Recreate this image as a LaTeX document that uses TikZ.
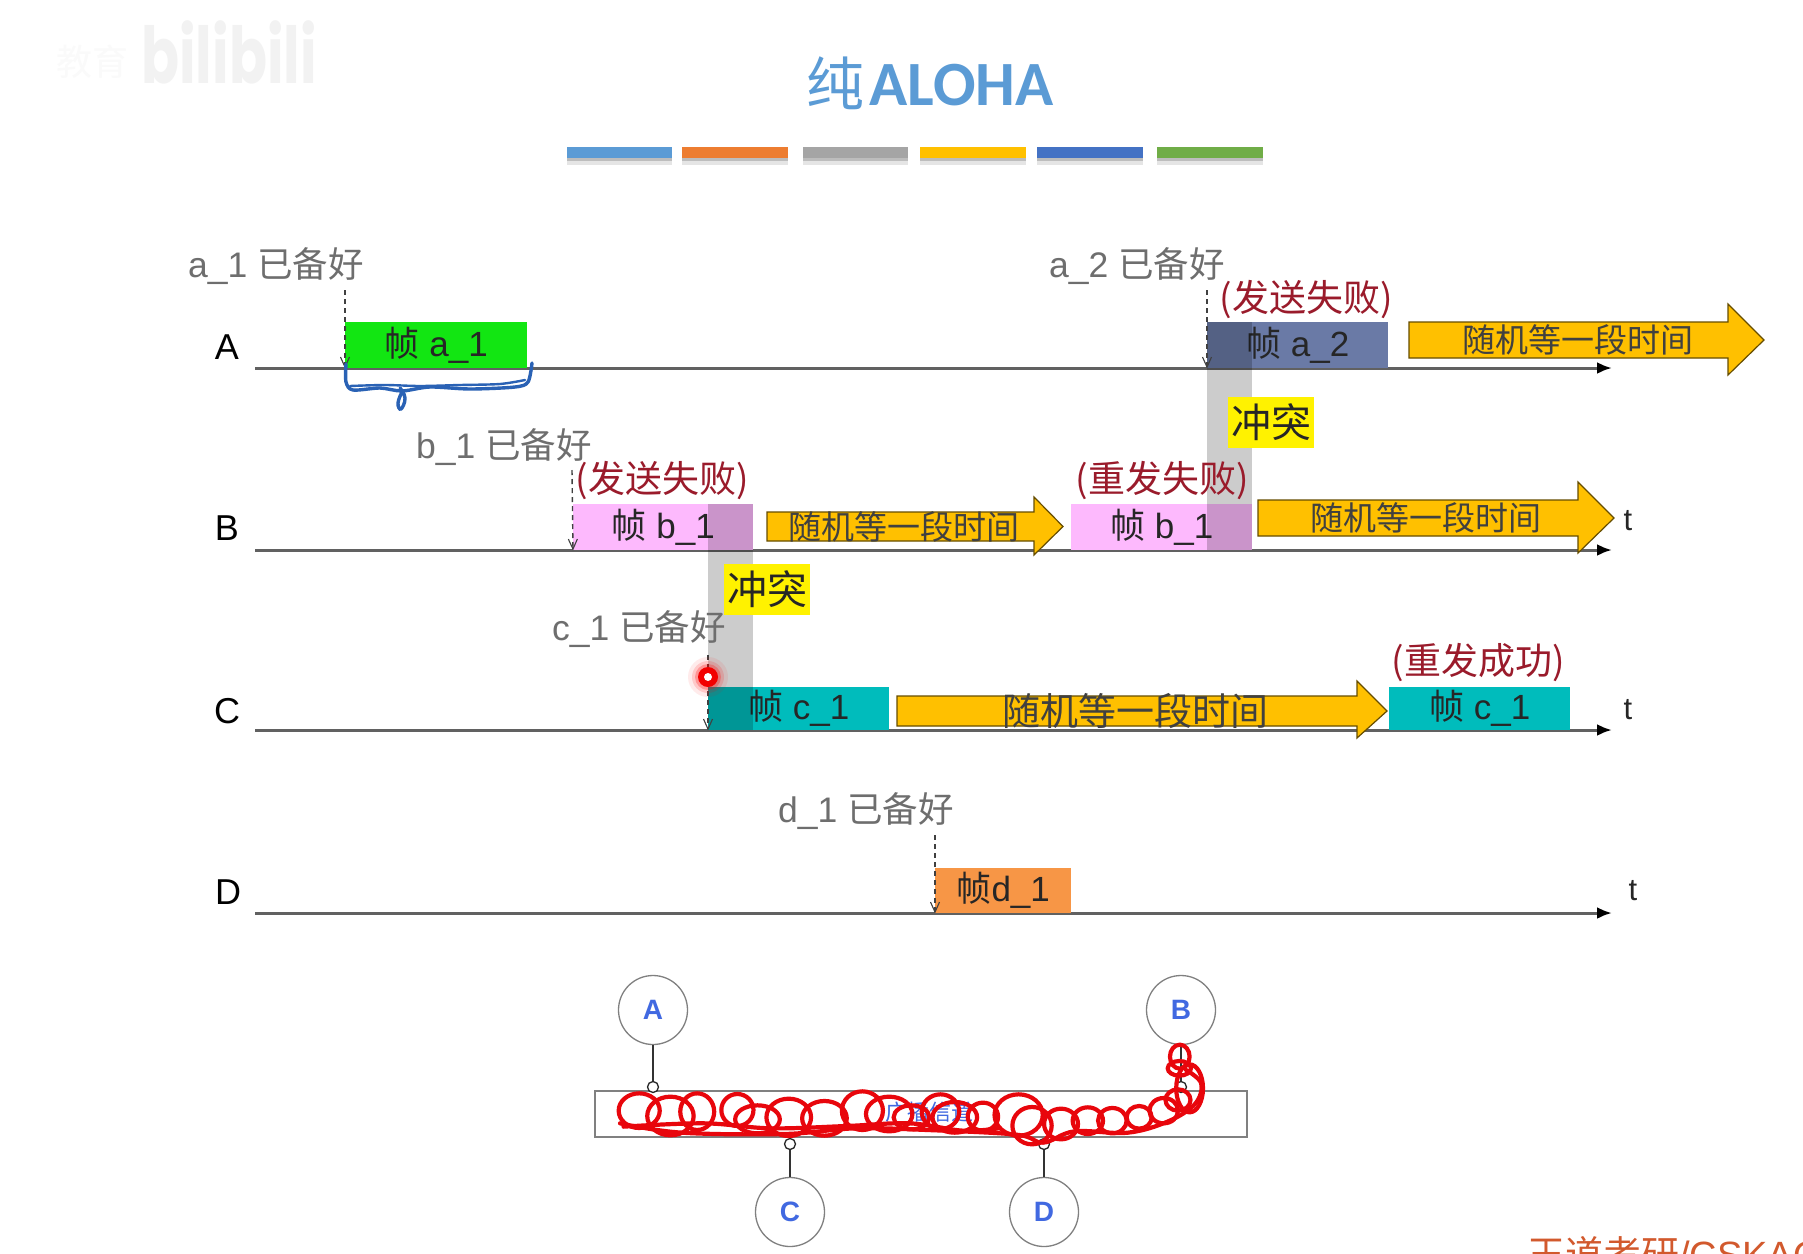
\documentclass[tikz,border=0pt]{standalone}
\usepackage{fontspec}
\setmainfont{Liberation Sans}
\newfontfamily\cjk{Noto Sans CJK SC}
\newfontfamily\carl{Carlito}
\newfontfamily\popp{Poppins}
\usetikzlibrary{arrows.meta}
\definecolor{titleblue}{HTML}{5B9BD5}
\definecolor{barorange}{HTML}{ED7D31}
\definecolor{bargray}{HTML}{A5A5A5}
\definecolor{baryellow}{HTML}{FFC000}
\definecolor{barblue}{HTML}{4472C4}
\definecolor{bargreen}{HTML}{70AD47}
\definecolor{labelgray}{HTML}{6E6E6E}
\definecolor{failred}{HTML}{9A1B2B}
\definecolor{framegreen}{HTML}{12E612}
\definecolor{frameslate}{HTML}{6A7AA6}
\definecolor{framepink}{HTML}{FDB9FD}
\definecolor{frameteal}{HTML}{00BCBC}
\definecolor{frameorange}{HTML}{F79646}
\definecolor{nodeblue}{HTML}{4169E1}
\definecolor{brushblue}{HTML}{2A62B5}
\definecolor{markred}{HTML}{E8060C}
\newcommand{\fsz}[1]{\fontsize{#1}{#1}\selectfont}
\newcommand{\ftxt}[1]{\raisebox{-2pt}{#1}}
\newcommand{\blockarrow}[8]{% name, x1, xhead, x2, top, bottom, headtop, headbottom
  \draw[blockstyle] (#2,#5) -- (#3,#5) -- (#3,#7) -- (#4,{(#5+#6)/2}) -- (#3,#8) -- (#3,#6) -- (#2,#6) -- cycle;
}
\newcommand{\bandbar}[3]{%
  \fill[black!10] (#1,150) rectangle (#2,165);
  \fill[black!26] (#1,150) rectangle (#2,161);
  \fill[#3] (#1,147) rectangle (#2,158);
}
\tikzset{
  axisline/.style={draw=black!62,line width=3pt,-{Latex[length=15pt,width=12pt,black]}},
  readylabel/.style={text=labelgray,font=\fsz{35.5},inner sep=0pt},
  faillabel/.style={text=failred,font=\cjk\fsz{37},inner sep=0pt},
  rowlabel/.style={text=black,font=\fsz{36},inner sep=0pt},
  tlabel/.style={text=black!85,font=\fsz{31},inner sep=0pt},
  framebox/.style={inner sep=0pt,anchor=north west,font=\fsz{35},text=black!85},
  yellowbox/.style={fill=yellow,inner sep=0pt,minimum width=86pt,minimum height=51pt,font=\cjk\fsz{40},text=black!85},
  blockstyle/.style={fill=baryellow,draw=black!60!baryellow,line width=1.2pt,line join=miter},
  waittext/.style={font=\cjk\fsz{33},text=black!75,inner sep=0pt},
  readyarrow/.style={draw=black!75,line width=1.4pt,dash pattern=on 5pt off 4pt,-{Straight Barb[length=10pt,width=9pt,line width=1.1pt]}},
  station/.style={circle,draw=black!50,fill=white,line width=1.3pt,minimum size=69pt,inner sep=0pt,font=\bfseries\fsz{28},text=nodeblue},
  tap/.style={circle,draw=black!85,fill=white,line width=1.3pt,minimum size=11pt,inner sep=0pt},
  stub/.style={draw=black!80,line width=1.3pt},
  scribble/.style={draw=markred,line width=4.2pt},
}
\begin{document}
\begin{tikzpicture}[x=1pt,y=-1pt]
\useasboundingbox (0,0) rectangle (1803,1253);
\fill[white] (0,0) rectangle (1803,1253);
% watermarks
\node[text=black!5,inner sep=0pt,anchor=center] (wmb) at (229,52) {\scalebox{1}[1.4]{\popp\bfseries\fsz{56}bilibili}};
\node[text=black!2,inner sep=0pt] (wme) at (92,62) {\cjk\fsz{36}教育};
% title
\node[text=titleblue,inner sep=0pt] (title) at (930,83) {\cjk\fsz{58}纯\hspace{5pt}\carl\bfseries\fsz{63}ALOHA};
\bandbar{567}{672}{titleblue}
\bandbar{682}{788}{barorange}
\bandbar{803}{908}{bargray}
\bandbar{920}{1026}{baryellow}
\bandbar{1037}{1143}{barblue}
\bandbar{1157}{1263}{bargreen}
% row labels and time axes
\node[rowlabel] (rowA) at (227,347) {A};
\node[rowlabel] (rowB) at (227,528) {B};
\node[rowlabel] (rowC) at (227,711) {C};
\node[rowlabel] (rowD) at (228,892) {D};
\coordinate (a0) at (255,368); \coordinate (a1) at (1612,368);
\coordinate (b0) at (255,550); \coordinate (b1) at (1612,550);
\coordinate (c0) at (255,730); \coordinate (c1) at (1612,730);
\coordinate (d0) at (255,913); \coordinate (d1) at (1612,913);
\draw[axisline] (a0) -- (a1);
\draw[axisline] (b0) -- (b1);
\draw[axisline] (c0) -- (c1);
\draw[axisline] (d0) -- (d1);
\node[tlabel] (tB) at (1628,521) {t};
\node[tlabel] (tC) at (1628,710) {t};
\node[tlabel] (tD) at (1633,891) {t};
% frames
\node[framebox,fill=framegreen,minimum width=182pt,minimum height=46pt] (fa1) at (345,322) {\ftxt{{\cjk 帧} a\_1}};
\node[framebox,fill=frameslate,minimum width=181pt,minimum height=46pt] (fa2) at (1207,322) {\ftxt{{\cjk 帧} a\_2}};
\node[framebox,fill=framepink,minimum width=180pt,minimum height=46pt] (fb1) at (573,504) {\ftxt{{\cjk 帧} b\_1}};
\node[framebox,fill=framepink,minimum width=181pt,minimum height=46pt] (fb2) at (1071,504) {\ftxt{{\cjk 帧} b\_1}};
\node[framebox,fill=frameteal,minimum width=181pt,minimum height=43pt] (fc1) at (708,687) {\ftxt{{\cjk 帧} c\_1}};
\node[framebox,fill=frameteal,minimum width=181pt,minimum height=43pt] (fc2) at (1389,687) {\ftxt{{\cjk 帧} c\_1}};
\node[framebox,fill=frameorange,minimum width=136pt,minimum height=45pt] (fd1) at (935,868) {\ftxt{{\cjk 帧}d\_1}};
% collision bands
\fill[black,opacity=.2] (708,504) rectangle (753,730);
\fill[black,opacity=.2] (1207,322) rectangle (1252,550);
\node[yellowbox] (col1) at (767,589) {冲突};
\node[yellowbox] (col2) at (1271,422) {冲突};
% wait arrows
\blockarrow{wa}{1409}{1728}{1764}{322}{358}{304}{375}
\node[waittext] (wat) at (1578,340) {随机等一段时间};
\blockarrow{wb1}{767}{1034}{1063}{512}{541}{497}{555}
\node[waittext] (wbt1) at (904,527) {随机等一段时间};
\blockarrow{wb2}{1258}{1578}{1614}{500}{536}{482}{553}
\node[waittext] (wbt2) at (1426,518) {随机等一段时间};
\blockarrow{wc}{897}{1357}{1387}{696}{726}{681}{738}
\node[waittext,font=\cjk\fsz{38}] (wct) at (1135,711) {随机等一段时间};
% ready labels and arrows
\node[readylabel] (ra1) at (276,266) {a\_1 {\cjk 已备好}};
\node[readylabel] (ra2) at (1137,266) {a\_2 {\cjk 已备好}};
\node[readylabel] (rb1) at (504,447) {b\_1 {\cjk 已备好}};
\node[readylabel] (rc1) at (639,629) {c\_1 {\cjk 已备好}};
\node[readylabel] (rd1) at (866,811) {d\_1 {\cjk 已备好}};
\draw[readyarrow] (345,290) -- (fa1.south west);
\draw[readyarrow] (1207,290) -- (fa2.south west);
\draw[readyarrow] (572,470) -- (fb1.south west);
\draw[readyarrow] (708,655) -- (fc1.south west);
\draw[readyarrow] (935,835) -- (fd1.south west);
% failure labels
\node[faillabel] (s1) at (662,481) {(发送失败)};
\node[faillabel] (s2) at (1306,300) {(发送失败)};
\node[faillabel] (s3) at (1162,481) {(重发失败)};
\node[faillabel] (s4) at (1478,663) {(重发成功)};
% blue brace
\draw[brushblue,line width=3.4pt,line cap=round,line join=round]
  plot[smooth,tension=.5] coordinates {(346,364) (346,382) (353,390) (380,388) (402,391) (430,387) (470,389) (515,387) (528,382) (532,363)};
\draw[brushblue,line width=2.4pt,line cap=round]
  plot[smooth,tension=.5] coordinates {(350,386) (385,385) (420,386) (460,385) (500,384) (525,380)};
\draw[brushblue,line width=3.4pt,line cap=round]
  plot[smooth,tension=.8] coordinates {(400,388) (405,398) (401,409) (398,403) (402,392)};
% laser dot
\fill[red,opacity=.08] (708,677) circle (20);
\fill[red,opacity=.14] (708,677) circle (16);
\fill[red,opacity=.25] (708,677) circle (13);
\fill[red!95!black] (708,677) circle (10);
\fill[white] (708,677) circle (4);
% bus
\node[draw=black!50,fill=white,line width=1.3pt,minimum width=652pt,minimum height=46pt,inner sep=0pt] (bus) at (921,1114) {};
\node[text=nodeblue,inner sep=0pt,font=\cjk\fsz{22}] (bust) at (929,1112) {广播信道};
\node[station] (A) at (653,1010) {A};
\node[station] (B) at (1181,1010) {B};
\node[station] (C) at (790,1212) {C};
\node[station] (D) at (1044,1212) {D};
\node[tap] (ta) at (653,1087) {};
\node[tap] (tb) at (1181,1087) {};
\node[tap] (tc) at (790,1144) {};
\node[tap] (td) at (1044,1144) {};
\draw[stub] (A) -- (ta);
\draw[stub] (B) -- (tb);
\draw[stub] (C) -- (tc);
\draw[stub] (D) -- (td);
% red scribble, in coordinates of the zoomed crop
\begin{scope}[shift={(570,960)},x=.4464pt,y=-.3333pt]
\foreach \cx/\cy/\ra/\rb in {155/452/46/52,225/468/52/58,285/455/38/55,375/450/36/48,420/478/50/42,490/472/50/56,570/475/50/52,655/452/46/58,715/462/52/52,765/472/40/36,830/455/42/52,862/472/50/46,925/470/34/42,1005/465/54/62,1035/497/44/56,1100/492/38/46,1160/482/34/40,1215/482/32/38,1275/472/28/34,1330/452/32/38,1362/420/28/32,1388/385/30/72,1365/325/26/22,1366/290/22/36}
  {\draw[scribble] (\cx,\cy) ellipse [x radius=\ra,y radius=\rb];}
\draw[scribble,line cap=round] plot[smooth,tension=.6] coordinates {(112,490) (250,518) (480,522) (640,505) (800,510) (1000,524) (1060,548) (1130,514) (1250,518) (1340,484) (1400,432) (1414,370) (1380,330)};
\draw[scribble,line cap=round] plot[smooth,tension=.6] coordinates {(120,500) (300,490) (450,505) (620,498) (760,490) (880,512) (960,505)};
\end{scope}
% corner credit
\begin{scope}
\clip (0,0) rectangle (1803,1253);
\node[text=brown!70!red,inner sep=0pt,anchor=base west,font=\fsz{38}] (credit) at (1527,1268) {{\cjk 王道考研}/CSKAO};
\end{scope}
\end{tikzpicture}
\end{document}
